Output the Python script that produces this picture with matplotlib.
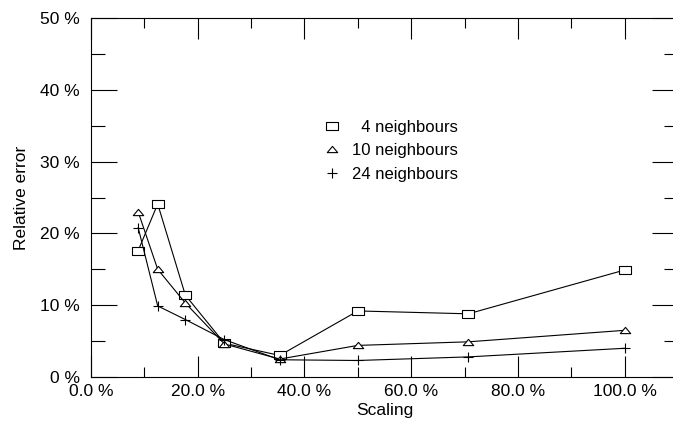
import numpy as np
import matplotlib
matplotlib.use('Agg')
import matplotlib.pyplot as plt
from matplotlib.path import Path
from matplotlib.lines import Line2D
from matplotlib.ticker import MultipleLocator, FuncFormatter

plt.rcParams['font.family'] = ['Liberation Sans', 'DejaVu Sans']

# scaling (percent) and relative error (percent)
scaling = [8.84, 12.5, 17.68, 25.0, 35.36, 50.0, 70.71, 100.0]
err_4 = [17.6, 24.1, 11.4, 4.7, 3.0, 9.2, 8.8, 14.9]
err_10 = [23.0, 15.0, 10.3, 4.6, 2.5, 4.4, 4.9, 6.5]
err_24 = [20.8, 9.9, 8.0, 5.2, 2.4, 2.3, 2.8, 4.0]
labels = ['  4 neighbours', '10 neighbours', '24 neighbours']

rect = Path([(-1.5, -1), (1.5, -1), (1.5, 1), (-1.5, 1), (-1.5, -1)],
            [Path.MOVETO, Path.LINETO, Path.LINETO, Path.LINETO, Path.CLOSEPOLY])
tri = Path([(-1, -0.6), (1, -0.6), (0, 0.6), (-1, -0.6)],
           [Path.MOVETO, Path.LINETO, Path.LINETO, Path.CLOSEPOLY])

fig = plt.figure(figsize=(6.73, 4.26), dpi=100)
ax = fig.add_axes([91 / 673, 1 - 377 / 426, (678 - 91) / 673, (377 - 18) / 426])

styles = [(err_4, rect, 9), (err_10, tri, 7.5), (err_24, '+', 7.5)]
for vals, m, ms in styles:
    ax.plot(scaling, vals, color='black', lw=0.8, marker=m, ms=ms,
            mfc='white', mec='black', mew=0.8)

ax.set_xlim(0, 110)
ax.set_ylim(0, 50)
ax.xaxis.set_major_locator(MultipleLocator(20))
ax.xaxis.set_minor_locator(MultipleLocator(10))
ax.yaxis.set_major_locator(MultipleLocator(10))
ax.yaxis.set_minor_locator(MultipleLocator(5))
ax.xaxis.set_major_formatter(FuncFormatter(lambda v, p: '%.1f %%' % v))
ax.yaxis.set_major_formatter(FuncFormatter(lambda v, p: '%d %%' % v))

fs = 12.5
ax.tick_params(axis='x', which='major', direction='in', length=15, width=0.8,
               top=True, bottom=True, labelsize=fs, pad=5)
ax.tick_params(axis='x', which='minor', direction='in', length=7, width=0.8,
               top=True, bottom=True)
ax.tick_params(axis='y', which='major', direction='in', length=19, width=0.8,
               left=True, right=True, labelsize=fs, pad=8)
ax.tick_params(axis='y', which='minor', direction='in', length=10, width=0.8,
               left=True, right=True)
for s in ax.spines.values():
    s.set_linewidth(0.8)

ax.set_xlabel('Scaling', fontsize=fs, labelpad=3)
ax.set_ylabel('Relative error', fontsize=fs, labelpad=8)

handles = [Line2D([], [], ls='none', marker=m, ms=ms, mfc='white',
                  mec='black', mew=0.8, color='black') for _, m, ms in styles]
ax.legend(handles, labels, loc='upper left', bbox_to_anchor=(0.3935, 0.716),
          frameon=False, fontsize=12, handlelength=1.2, handletextpad=0.6,
          labelspacing=0.5, borderpad=0, borderaxespad=0)

fig.savefig('out.png', dpi=100)
